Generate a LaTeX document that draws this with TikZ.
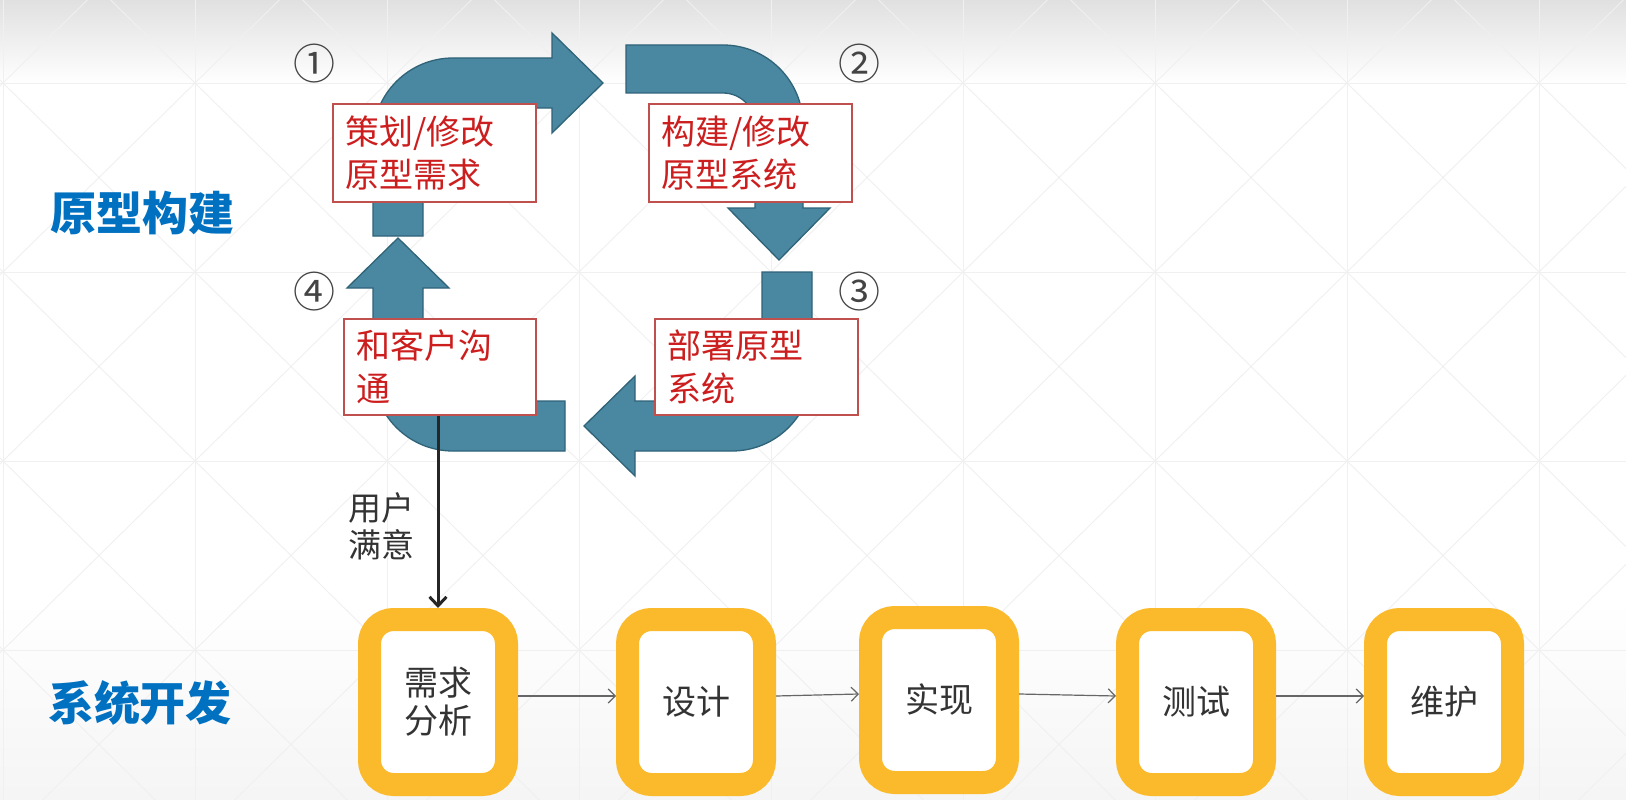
\documentclass[tikz,border=0pt]{standalone}
\usepackage{fontspec}
\setmainfont{Noto Sans CJK SC}
\usetikzlibrary{arrows.meta}
\definecolor{arrowfill}{HTML}{4A87A1}
\definecolor{arrowline}{HTML}{2F6378}
\definecolor{boxred}{HTML}{C0504D}
\definecolor{txtred}{HTML}{CC1E1E}
\definecolor{stageyellow}{HTML}{FBBA2C}
\definecolor{txtgray}{HTML}{333333}
\definecolor{numgray}{HTML}{444444}
\definecolor{titleblue}{HTML}{0070C0}
\definecolor{gridgray}{HTML}{F0F0F0}
\begin{document}
\begin{tikzpicture}[x=1pt,y=-1pt,
  gridline/.style={draw=gridgray, line width=0.9pt},
  bigarrow/.style={fill=arrowfill, draw=arrowline, line width=1.3pt, line join=miter},
  redbox/.style={draw=boxred, line width=1.3pt, fill=white, text=txtred,
    font=\fontsize{34}{43}\selectfont, align=left, inner xsep=12pt, inner ysep=3pt},
  stage/.style={draw=stageyellow, line width=23pt, fill=white, rounded corners=24pt,
    minimum width=137pt, minimum height=165pt, outer sep=11.5pt, text=txtgray,
    font=\fontsize{34}{38}\selectfont, align=center},
  num/.style={text=numgray, font=\fontsize{42}{42}\selectfont, inner sep=0pt},
  title/.style={text=titleblue, font=\fontsize{46}{46}\selectfont\bfseries, inner sep=0pt},
  flow/.style={draw=black!60, line width=1.2pt, -{Straight Barb[length=7pt,width=14pt]}},
  okarrow/.style={draw=black!85, line width=3pt, -{Straight Barb[length=9pt,width=17pt]}}
]
\useasboundingbox (0,0) rectangle (1626,800);
% background
\fill[white] (0,0) rectangle (1626,800);
\begin{scope}
  \clip (0,0) rectangle (1626,800);
  \shade[top color=black!12, bottom color=white] (0,0) rectangle (1626,84);
  \shade[top color=white, bottom color=black!4] (0,600) rectangle (1626,800);
  \foreach \x in {3,195,387,579,771,963,1155,1347,1539}
    \draw[gridline] (\x,0) -- (\x,800);
  \foreach \y in {83,272,461,650}
    \draw[gridline] (0,\y) -- (1626,\y);
  \foreach \i in {-1,...,8}
    \foreach \j in {-1,...,3}{
      \draw[gridline] ({3+192*\i},{83+189*\j}) -- ({195+192*\i},{272+189*\j});
      \draw[gridline] ({195+192*\i},{83+189*\j}) -- ({3+192*\i},{272+189*\j});
    }
\end{scope}

% big cycle arrows
\path[bigarrow] (373,236) -- (373,138) .. controls (373,93.8) and (408.8,58) .. (453,58)
  -- (552,58) -- (552,33) -- (603,83) -- (552,133) -- (552,108) -- (453,108)
  .. controls (436.4,108) and (423,121.4) .. (423,138) -- (423,236) -- cycle;
\path[bigarrow] (626,45) -- (723,45) .. controls (767.2,45) and (803,80.8) .. (803,125)
  -- (803,208) -- (830,208) -- (779,260) -- (728,208) -- (755,208) -- (755,125)
  .. controls (755,107.3) and (740.7,93) .. (723,93) -- (626,93) -- cycle;
\path[bigarrow] (762,272) -- (812,272) -- (812,371) .. controls (812,415.2) and (776.2,451) .. (732,451)
  -- (635,451) -- (635,476) -- (584,426) -- (635,376) -- (635,401) -- (732,401)
  .. controls (748.6,401) and (762,387.6) .. (762,371) -- cycle;
\path[bigarrow] (565,451) -- (453,451) .. controls (408.8,451) and (373,415.2) .. (373,371)
  -- (373,288) -- (347,288) -- (398,238) -- (449,288) -- (423,288) -- (423,371)
  .. controls (423,387.6) and (436.4,401) .. (453,401) -- (565,401) -- cycle;

% red boxes
\node[redbox, minimum width=203pt, minimum height=98pt, text width=179pt] (plan) at (434.5,153) {策划/修改\\原型需求};
\node[redbox, minimum width=203pt, minimum height=98pt, text width=179pt] (build) at (750.5,153) {构建/修改\\原型系统};
\node[redbox, minimum width=203pt, minimum height=96pt, text width=179pt] (deploy) at (756.5,367) {部署原型\\系统};
\node[redbox, minimum width=192pt, minimum height=96pt, text width=168pt] (talk) at (440,367) {和客户沟\\通};

% circled numbers
\node[num] (n1) at (314,64) {①};
\node[num] (n2) at (859,64) {②};
\node[num] (n3) at (859,292) {③};
\node[num] (n4) at (314,292) {④};

% titles
\node[title] (t1) at (142,213) {原型构建};
\node[title] (t2) at (140,703) {系统开发};

% stages
\node[stage] (req) at (438,702) {需求\\分析};
\node[stage] (design) at (696,702) {设计};
\node[stage] (impl) at (939,700) {实现};
\node[stage] (test) at (1196,702) {测试};
\node[stage] (maint) at (1444,702) {维护};

\draw[flow] ([yshift=6pt]req.east) -- ([yshift=6pt]design.west);
\draw[flow] ([yshift=6pt]design.east) -- ([yshift=6pt]impl.west);
\draw[flow] ([yshift=6pt]impl.east) -- ([yshift=6pt]test.west);
\draw[flow] ([yshift=6pt]test.east) -- ([yshift=6pt]maint.west);

% user satisfied
\draw[okarrow] (talk.south -| req.north) -- (req.north);
\node[anchor=west, align=left, text=txtgray, font=\fontsize{33}{37}\selectfont, inner sep=0pt] (ok) at (348,526) {用户\\满意};
\end{tikzpicture}
\end{document}
